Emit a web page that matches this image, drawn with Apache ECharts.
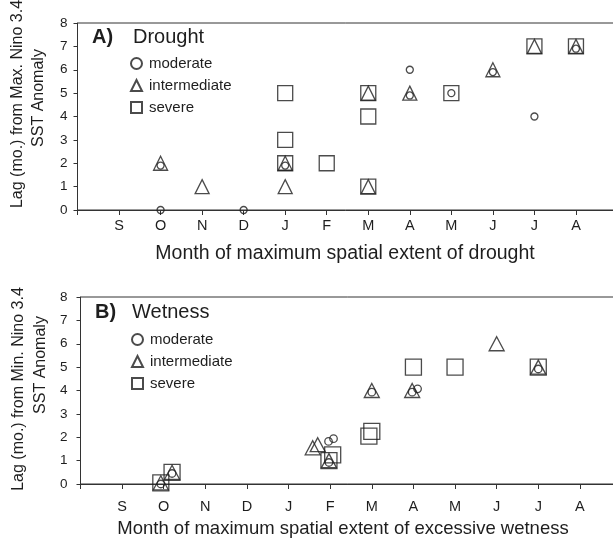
<!DOCTYPE html>
<html>
<head>
<meta charset="utf-8">
<script src="https://cdn.jsdelivr.net/npm/echarts@6/dist/echarts.min.js"></script>
<style>
  html, body { margin: 0; padding: 0; background: #fff; }
  #chart { width: 613px; height: 538px; }
</style>
</head>
<body>
<div id="chart"></div>
<script>
// Month labels along the x axis (Sep .. Aug), positioned at 1..12
const months = ['S', 'O', 'N', 'D', 'J', 'F', 'M', 'A', 'M', 'J', 'J', 'A'];

// Panel A: lag (months) from max. Nino 3.4 SST anomaly vs. month of max drought extent
const droughtModerate = [[2, 1.9], [2, 0], [4, 0], [5, 1.9], [8, 6], [8, 4.9], [9, 5], [10, 5.9], [11, 4], [12, 6.9]];
const droughtIntermediate = [[2, 2], [3, 1], [5, 2], [5, 1], [7, 5], [7, 1], [8, 5], [10, 6], [11, 7], [12, 7]];
const droughtSevere = [[5, 5], [5, 3], [5, 2], [6, 2], [7, 5], [7, 4], [7, 1], [9, 5], [11, 7], [12, 7]];

// Panel B: lag (months) from min. Nino 3.4 SST anomaly vs. month of max wetness extent
const wetModerate = [[1.93, 0.0], [2.2, 0.45], [5.97, 0.92], [5.96, 1.82], [6.08, 1.94], [7, 3.93], [7.97, 3.93], [8.1, 4.07], [11, 4.92]];
const wetIntermediate = [[1.93, 0.05], [2.2, 0.5], [5.58, 1.55], [5.7, 1.68], [5.97, 1.0], [7, 4], [7.97, 4], [10, 6], [11, 5]];
const wetSevere = [[1.93, 0.05], [2.2, 0.5], [5.97, 1.0], [6.06, 1.25], [6.93, 2.05], [7.0, 2.25], [8, 5], [9, 5], [11, 5]];

const ink = '#1e1e1e';
const axisColor = '#333';
const font = 'Liberation Sans, Arial, sans-serif';

const chart = echarts.init(document.getElementById('chart'), null, { renderer: 'canvas' });

function xAxisFor(gridIndex, margin) {
  return {
    type: 'value', gridIndex: gridIndex, min: 0, max: 13, interval: 1,
    axisLine: { show: true, onZero: false, lineStyle: { color: axisColor, width: 1 } },
    axisTick: { show: true, inside: false, length: 5, lineStyle: { color: axisColor } },
    axisLabel: {
      margin: margin, color: ink, fontFamily: font, fontSize: 14.5,
      formatter: function (v) { return months[v - 1] || ''; }
    },
    splitLine: { show: false }
  };
}

function yAxisFor(gridIndex, margin) {
  return {
    type: 'value', gridIndex: gridIndex, min: 0, max: 8, interval: 1,
    axisLine: { show: true, lineStyle: { color: axisColor, width: 1 } },
    axisTick: { show: true, inside: false, length: 4, lineStyle: { color: axisColor } },
    axisLabel: { margin: margin, color: ink, fontFamily: font, fontSize: 13.5 },
    splitLine: { show: false }
  };
}

const hollow = { color: 'rgba(0,0,0,0)', borderColor: ink, borderWidth: 1.3 };

function scatter(name, idx, data, symbol, size) {
  return {
    name: name, type: 'scatter', xAxisIndex: idx, yAxisIndex: idx,
    data: data, symbol: symbol, symbolSize: size, clip: false,
    itemStyle: hollow, emphasis: { disabled: true }, silent: true
  };
}

function legendFor(left, top) {
  return {
    orient: 'vertical', left: left, top: top, selectedMode: false,
    itemWidth: 11, itemHeight: 11, itemGap: 7, padding: 0,
    data: ['moderate', 'intermediate', 'severe'],
    textStyle: { color: ink, fontFamily: font, fontSize: 15, padding: [0, 0, 0, 2] }
  };
}

function label(text, x, y, size, weight, rot) {
  return {
    type: 'text', x: x, y: y, rotation: rot || 0,
    style: {
      text: text, fill: ink, font: (weight || 'normal') + ' ' + size + 'px ' + font,
      textAlign: 'center', textVerticalAlign: 'middle'
    }
  };
}

chart.setOption({
  animation: false,
  backgroundColor: '#fff',
  grid: [
    { left: 77.5, top: 23, width: 540, height: 187, outerBoundsMode: 'none', containLabel: false,
      show: true, borderColor: axisColor, borderWidth: 1 },
    { left: 80.5, top: 297, width: 541, height: 187, outerBoundsMode: 'none', containLabel: false,
      show: true, borderColor: axisColor, borderWidth: 1 }
  ],
  xAxis: [xAxisFor(0, 8), xAxisFor(1, 15)],
  yAxis: [yAxisFor(0, 10), yAxisFor(1, 13)],
  legend: [legendFor(130, 56), legendFor(131, 332)],
  series: [
    scatter('severe', 0, droughtSevere, 'rect', 15),
    scatter('intermediate', 0, droughtIntermediate, 'triangle', [14, 14]),
    scatter('moderate', 0, droughtModerate, 'circle', 7),
    scatter('severe', 1, wetSevere, 'rect', 16),
    scatter('intermediate', 1, wetIntermediate, 'triangle', [15, 14]),
    scatter('moderate', 1, wetModerate, 'circle', 7.5)
  ],
  graphic: [
    { type: 'text', left: 92, top: 27, style: { text: 'A)', fill: ink, font: 'bold 20px ' + font } },
    { type: 'text', left: 133, top: 27, style: { text: 'Drought', fill: ink, font: 'normal 20px ' + font } },
    { type: 'text', left: 95, top: 302, style: { text: 'B)', fill: ink, font: 'bold 20px ' + font } },
    { type: 'text', left: 132, top: 302, style: { text: 'Wetness', fill: ink, font: 'normal 20px ' + font } },
    label('Month of maximum spatial extent of drought', 345, 254, 19.5),
    label('Month of maximum spatial extent of excessive wetness', 343, 529, 18.5),
    label('Lag (mo.) from Max. Nino 3.4', 18, 104, 16, 'normal', Math.PI / 2),
    label('SST Anomaly', 39, 98, 16, 'normal', Math.PI / 2),
    label('Lag (mo.) from Min. Nino 3.4', 19, 389, 16, 'normal', Math.PI / 2),
    label('SST Anomaly', 41, 365, 16, 'normal', Math.PI / 2)
  ]
});
</script>
</body>
</html>
